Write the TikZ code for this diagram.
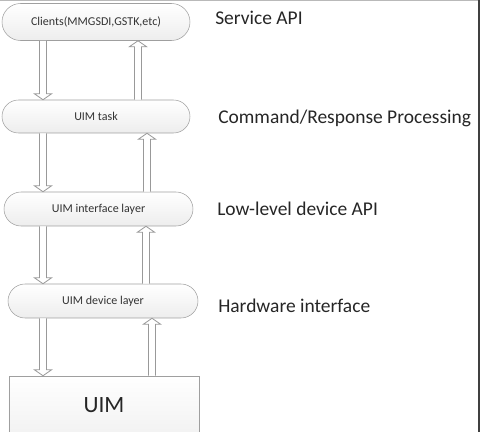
\documentclass[tikz,border=0pt]{standalone}
\usepackage{fontspec}
\setmainfont{Carlito}
\usetikzlibrary{shapes.misc, calc}

\tikzset{
  layerbox/.style={rounded rectangle, draw=gray!75, top color=white, bottom color=gray!14,
    minimum width=141pt, minimum height=25.5pt, inner sep=0pt, text=black!80,
    font=\fontsize{9}{10}\selectfont},
  sidelabel/.style={anchor=west, inner sep=0pt, text=black!85, font=\fontsize{14.6}{16}\selectfont},
  fatarrow/.style={draw=gray!80, fill=white, line width=0.6pt, line join=miter}
}

% hollow block arrow from #1 (tail) to #2 (tip), vertical
\newcommand{\hollowarrow}[2]{%
  \draw[fatarrow] let \p1=#1, \p2=#2, \n1={sign(\y2-\y1)} in
    ({\x1-2.6pt},\y1) -- ({\x1-2.6pt},{\y2-\n1*4.5pt}) -- ({\x1-6.5pt},{\y2-\n1*4.5pt})
    -- (\x1,\y2) -- ({\x1+6.5pt},{\y2-\n1*4.5pt}) -- ({\x1+2.6pt},{\y2-\n1*4.5pt})
    -- ({\x1+2.6pt},\y1);}

\begin{document}
\begin{tikzpicture}[x=0.75pt, y=-0.75pt]
      \useasboundingbox (0,0) rectangle (480,432);
      \clip (0,0) rectangle (480,432);

      % layers
      \node[layerbox, minimum height=27.75pt] (clients) at (96,22) {Clients(MMGSDI,GSTK,etc)};
      \node[layerbox, minimum height=24.75pt] (task) at (96,116.5) {UIM task};
      \node[layerbox, minimum width=141.75pt] (iface) at (98.5,209) {UIM interface layer};
      \node[layerbox, minimum width=142.5pt] (device) at (103,301) {UIM device layer};
      \node[draw=gray!75, top color=white, bottom color=gray!10, minimum width=142.5pt,
        minimum height=43.5pt, inner sep=0pt, text=black!85, font=\fontsize{17.5}{20}\selectfont] (uim) at (104,405) {UIM};

      % arrow columns
      \coordinate (dn) at (43,0);
      \coordinate (upa) at (138,0);
      \coordinate (upb) at (147,0);
      \coordinate (upc) at (146,0);
      \coordinate (upd) at (152,0);

      \hollowarrow{(clients.south -| dn)}{(task.north -| dn)}
      \hollowarrow{(task.north -| upa)}{(clients.south -| upa)}
      \hollowarrow{(task.south -| dn)}{(iface.north -| dn)}
      \hollowarrow{(iface.north -| upb)}{(task.south -| upb)}
      \hollowarrow{(iface.south -| dn)}{(device.north -| dn)}
      \hollowarrow{(device.north -| upc)}{(iface.south -| upc)}
      \hollowarrow{(device.south -| dn)}{(uim.north -| dn)}
      \hollowarrow{(uim.north -| upd)}{(device.south -| upd)}

      % side labels
      \node[sidelabel] (svc) at (215,18) {Service API};
      \node[sidelabel] (cmd) at (218,118) {Command/Response Processing};
      \node[sidelabel] (low) at (217,209) {Low-level device API};
      \node[sidelabel] (hw) at (218,306) {Hardware interface};

      % frame edges
      \draw[gray!55, line width=0.75pt] (0,0.5) -- (480,0.5);
      \draw[black!75, line width=1.2pt] (479,0) -- (479,432);
\end{tikzpicture}
\end{document}
